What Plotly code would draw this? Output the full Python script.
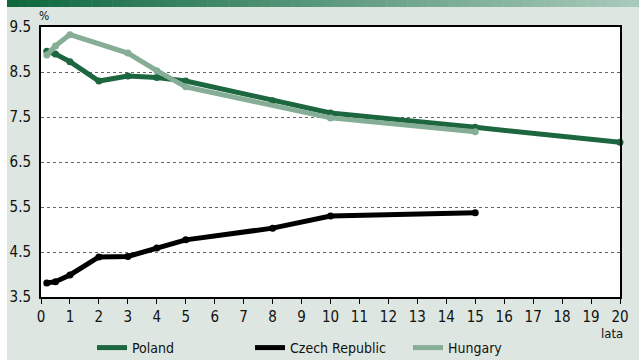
import plotly.graph_objects as go

# Yield curves (% vs years to maturity)
poland_x = [0.2, 0.5, 1, 2, 3, 4, 5, 8, 10, 15, 20]
poland_y = [8.96, 8.9, 8.73, 8.3, 8.41, 8.38, 8.3, 7.86, 7.59, 7.27, 6.94]

czech_x = [0.2, 0.5, 1, 2, 3, 4, 5, 8, 10, 15]
czech_y = [3.81, 3.84, 3.99, 4.39, 4.4, 4.59, 4.77, 5.03, 5.3, 5.37]

hungary_x = [0.2, 0.5, 1, 3, 4, 5, 10, 15]
hungary_y = [8.88, 9.08, 9.33, 8.92, 8.53, 8.17, 7.48, 7.17]

y_ticks = [3.5, 4.5, 5.5, 6.5, 7.5, 8.5, 9.5]
x_ticks = list(range(0, 21))

FONT = "DejaVu Sans Condensed, sans-serif"
BG = "#dde6e0"

fig = go.Figure()
series = [
    ("Poland", poland_x, poland_y, "#1c6640"),
    ("Czech Republic", czech_x, czech_y, "#000000"),
    ("Hungary", hungary_x, hungary_y, "#86ad95"),
]
for name, xs, ys, col in series:
    fig.add_trace(go.Scatter(
        x=xs, y=ys, name=name, mode="lines", legendgroup=name,
        line=dict(color=col, width=5), cliponaxis=False,
    ))
    fig.add_trace(go.Scatter(
        x=xs, y=ys, name=name, mode="markers", legendgroup=name, showlegend=False,
        marker=dict(color=col, size=7), cliponaxis=False,
    ))

L, R, T, B = 41, 19, 27, 63
W, H = 639, 360
pw, ph = W - L - R, H - T - B

def px(x):
    return (x - L) / pw

def py(y):
    return (H - B - y) / ph

shapes = []
# white strip on the left edge
shapes.append(dict(type="rect", xref="paper", yref="paper",
                   x0=px(0), x1=px(7), y0=py(360), y1=py(0),
                   fillcolor="white", line=dict(width=0), layer="below"))
# gradient banner at the top
n = 60
c0 = (14, 104, 62)
c1 = (168, 202, 186)
for i in range(n):
    t = i / (n - 1)
    c = tuple(int(round(a + (b - a) * t)) for a, b in zip(c0, c1))
    xa = 7 + (639 - 7) * i / n
    xb = 7 + (639 - 7) * (i + 1) / n + 0.5
    shapes.append(dict(type="rect", xref="paper", yref="paper",
                       x0=px(xa), x1=px(xb), y0=py(7), y1=py(0),
                       fillcolor="rgb(%d,%d,%d)" % c, line=dict(width=0),
                       layer="below"))

fig.update_layout(
    width=W, height=H,
    margin=dict(l=L, r=R, t=T, b=B, autoexpand=False),
    paper_bgcolor=BG, plot_bgcolor="white",
    font=dict(family=FONT, size=14, color="#111"),
    shapes=shapes,
    showlegend=True,
    legend=dict(orientation="h", xref="container", yref="container",
                x=92 / W, y=1 - 348 / H, xanchor="left", yanchor="middle",
                bgcolor="rgba(0,0,0,0)", font=dict(size=14),
                entrywidth=113, entrywidthmode="pixels", itemwidth=30),
    annotations=[
        dict(text="%", xref="paper", yref="paper", x=px(44), y=py(16),
             showarrow=False, font=dict(size=12), xanchor="center", yanchor="middle"),
        dict(text="lata", xref="paper", yref="paper", x=px(612), y=py(333),
             showarrow=False, font=dict(size=13), xanchor="center", yanchor="middle"),
    ],
)
fig.update_xaxes(range=[0, 20], tickvals=x_ticks, ticks="outside", ticklen=5,
                 tickwidth=1, tickcolor="black", showgrid=False, zeroline=False,
                 showline=True, mirror=True, linecolor="black", linewidth=2,
                 tickfont=dict(size=15))
fig.update_yaxes(range=[3.5, 9.5], tickvals=y_ticks, ticktext=[f"{v:.1f}" for v in y_ticks],
                 showgrid=True, gridcolor="#666", griddash="dot", gridwidth=1,
                 zeroline=False, showline=True, mirror=True, linecolor="black", linewidth=2,
                 ticks="", ticklabelstandoff=5, tickfont=dict(size=15))

fig.write_html("out.html")
